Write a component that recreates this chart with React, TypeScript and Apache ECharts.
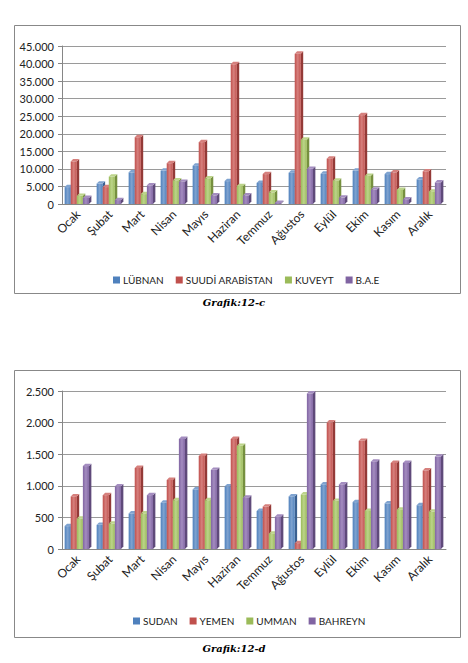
import { useEffect, useRef } from 'react';
import * as echarts from 'echarts';

const months = ['Ocak', 'Şubat', 'Mart', 'Nisan', 'Mayıs', 'Haziran', 'Temmuz', 'Ağustos', 'Eylül', 'Ekim', 'Kasım', 'Aralık'];

// Grafik 12-c
const lubnan = [5500, 6500, 9700, 10200, 11600, 7200, 6700, 9600, 9300, 10200, 9200, 7700];
const suudi = [12800, 5500, 19700, 12300, 18300, 40500, 9200, 43500, 13600, 26000, 9700, 10000];
const kuveyt = [3000, 8500, 3500, 7400, 8000, 5800, 4000, 19000, 7300, 8700, 4700, 4200];
const bae = [2400, 1800, 6000, 7000, 3100, 3100, 1000, 10700, 2500, 4800, 2000, 6800];

// Grafik 12-d
const sudan = [400, 420, 600, 770, 980, 1030, 640, 870, 1060, 780, 760, 730];
const yemen = [870, 890, 1320, 1130, 1510, 1780, 710, 130, 2040, 1750, 1400, 1280];
const umman = [520, 440, 600, 810, 810, 1670, 280, 900, 800, 640, 660, 630];
const bahreyn = [1350, 1030, 890, 1780, 1290, 850, 550, 2500, 1060, 1420, 1400, 1500];

const colors = ['#4F81BD', '#C0504D', '#9BBB59', '#8064A2'];
const sideColors = ['#3A6091', '#943A37', '#76903F', '#5F4A7A'];
const topColors = ['#7FA3D0', '#D6807D', '#BCD48A', '#A48DC0'];

const FONT = 'Lato, "Liberation Sans", sans-serif';

const fmt = (v: number) => String(v).replace(/\B(?=(\d{3})+(?!\d))/g, '.');

// 3D column: the back edge of the top face sits on the value, like Excel's 3D bars
const make3dBar = (idx: number) => (params: any, api: any) => {
  const cat = api.value(0);
  const val = api.value(1);
  const base = api.coord([cat, 0]);
  const top = api.coord([cat, val]);
  const catW = api.size([1, 0])[0];
  const bw = catW * 0.19;
  const d = catW * 0.075;
  const x0 = base[0] - (bw * 4 + d) / 2 + idx * bw;
  const yb = base[1];
  const yt = Math.min(top[1] + d, yb);
  return {
    type: 'group',
    children: [
      {
        type: 'polygon',
        shape: { points: [[x0 + bw, yt], [x0 + bw + d, yt - d], [x0 + bw + d, yb - d], [x0 + bw, yb]] },
        style: { fill: sideColors[idx] },
      },
      {
        type: 'polygon',
        shape: { points: [[x0, yt], [x0 + d, yt - d], [x0 + bw + d, yt - d], [x0 + bw, yt]] },
        style: { fill: topColors[idx] },
      },
      {
        type: 'rect',
        shape: { x: x0, y: yt, width: bw, height: yb - yt },
        style: {
          fill: new echarts.graphic.LinearGradient(0, 0, 1, 0, [
            { offset: 0, color: colors[idx] },
            { offset: 0.5, color: topColors[idx] },
            { offset: 1, color: colors[idx] },
          ]),
        },
      },
    ],
  };
};

const buildSeries = (names: string[], values: number[][], gridIndex: number) =>
  names.map((name, i) => ({
    name,
    type: 'custom',
    xAxisIndex: gridIndex,
    yAxisIndex: gridIndex,
    itemStyle: { color: colors[i] },
    renderItem: make3dBar(i),
    encode: { x: 0, y: 1 },
    data: values[i].map((v, j) => [j, v]),
  }));

const xAxisFor = (gridIndex: number) => ({
  type: 'category',
  gridIndex,
  data: months,
  axisLine: { lineStyle: { color: '#868686' } },
  axisTick: { lineStyle: { color: '#868686' }, length: 4 },
  axisLabel: { rotate: 45, fontSize: 12, color: '#222', fontFamily: FONT, margin: 8 },
});

const yAxisFor = (gridIndex: number, max: number, interval: number) => ({
  type: 'value',
  gridIndex,
  min: 0,
  max,
  interval,
  axisLine: { show: true, lineStyle: { color: '#868686' } },
  axisTick: { show: true, length: 4, lineStyle: { color: '#868686' } },
  axisLabel: { fontSize: 11, color: '#222', fontFamily: FONT, margin: 8, formatter: fmt },
  splitLine: { lineStyle: { color: '#9a9a9a' } },
});

const names1 = ['LÜBNAN', 'SUUDİ ARABİSTAN', 'KUVEYT', 'B.A.E'];
const names2 = ['SUDAN', 'YEMEN', 'UMMAN', 'BAHREYN'];

const legendFor = (data: string[], left: number, top: number) => ({
  data,
  left,
  top,
  icon: 'rect',
  itemWidth: 7,
  itemHeight: 7,
  itemGap: 12,
  textStyle: { fontSize: 10, color: '#222', fontFamily: FONT, padding: [0, 0, 0, -2] },
});

export default function App() {
  const ref = useRef<HTMLDivElement | null>(null);

  useEffect(() => {
    if (!ref.current) return undefined;
    const chart = echarts.init(ref.current, undefined, { renderer: 'svg' });
    chart.setOption({
      animation: false,
      backgroundColor: '#fff',
      grid: [
        { left: 62, top: 46, width: 384, height: 158 },
        { left: 62, top: 391, width: 384, height: 158 },
      ],
      xAxis: [xAxisFor(0), xAxisFor(1)],
      yAxis: [yAxisFor(0, 45000, 5000), yAxisFor(1, 2500, 500)],
      legend: [legendFor(names1, 108, 270), legendFor(names2, 128, 611)],
      graphic: [
        { type: 'rect', z: -10, shape: { x: 14.5, y: 25.5, width: 446, height: 268 }, style: { fill: 'none', stroke: '#888', lineWidth: 1 } },
        { type: 'rect', z: -10, shape: { x: 14.5, y: 370.5, width: 446, height: 267 }, style: { fill: 'none', stroke: '#888', lineWidth: 1 } },
        {
          type: 'text', x: 234, y: 302,
          style: { text: 'Grafik:12-c', fill: '#000', font: 'italic bold 10px "DejaVu Serif", serif', align: 'center', verticalAlign: 'middle' },
        },
        {
          type: 'text', x: 234, y: 648,
          style: { text: 'Grafik:12-d', fill: '#000', font: 'italic bold 10px "DejaVu Serif", serif', align: 'center', verticalAlign: 'middle' },
        },
      ],
      series: [
        ...buildSeries(names1, [lubnan, suudi, kuveyt, bae], 0),
        ...buildSeries(names2, [sudan, yemen, umman, bahreyn], 1),
      ],
    });
    return () => chart.dispose();
  }, []);

  return <div ref={ref} style={{ position: 'absolute', left: 0, top: 0, width: 468, height: 663 }} />;
}
